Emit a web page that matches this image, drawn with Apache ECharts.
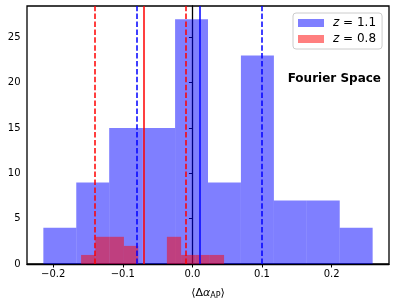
<!DOCTYPE html>
<html><head><meta charset="utf-8">
<script src="https://cdn.jsdelivr.net/npm/echarts@6/dist/echarts.min.js"></script>
<style>html,body{margin:0;padding:0;background:#fff}#c{width:396px;height:305px}</style>
</head><body><div id="c"></div>
<script>
// ---- data ----
const blueEdges = [-0.2142, -0.1669, -0.1196, -0.0722, -0.0249, 0.0224, 0.0697, 0.1171, 0.1644, 0.2117, 0.2590];
const blueCounts = [4, 9, 15, 15, 27, 9, 23, 7, 7, 4];
const redEdges = [-0.1600, -0.1395, -0.1189, -0.0984, -0.0778, -0.0573, -0.0367, -0.0162, 0.0044, 0.0249, 0.0455];
const redCounts = [1, 3, 3, 2, 0, 0, 3, 1, 1, 1];
const blueDashed = [-0.0815, 0.0971];
const blueSolid = [0.0128];
const redDashed = [-0.1375, -0.0082];
const redSolid = [-0.0734];
const xTicks = [-0.2, -0.1, 0.0, 0.1, 0.2];
const yTicks = [0, 5, 10, 15, 20, 25];
const blueName = 'z = 1.1';
const redName = 'z = 0.8';
const panelLabel = 'Fourier Space';

const FONT = 'DejaVu Sans';
function binData(edges, counts) {
  return counts.map((c, i) => [edges[i], edges[i + 1], c]);
}
function histRender(params, api) {
  const p0 = api.coord([api.value(0), api.value(2)]);
  const p1 = api.coord([api.value(1), 0]);
  return {
    type: 'rect',
    shape: { x: p0[0], y: p0[1], width: p1[0] - p0[0], height: p1[1] - p0[1] },
    style: { fill: api.visual('color'), stroke: null, lineWidth: 0 }
  };
}
const dashType = [5.5, 2.4];
function vlines(vals, color, type, width) {
  return vals.map(v => ({ xAxis: v, lineStyle: { color: color, type: type, width: width, opacity: 1 } }));
}

const chart = echarts.init(document.getElementById('c'), null, { renderer: 'canvas' });
chart.setOption({
  animation: false,
  grid: { left: 27, right: 7, top: 6, bottom: 41, show: true, borderColor: '#000', borderWidth: 1.3, backgroundColor: 'transparent' },
  xAxis: {
    type: 'value', min: -0.2377, max: 0.2825,
    splitLine: { show: false },
    axisLine: { show: true, onZero: false, lineStyle: { color: '#000', width: 1.3 } },
    axisTick: { show: true, inside: false, length: 3.5, lineStyle: { color: '#000', width: 1 }, customValues: xTicks },
    axisLabel: { show: true, margin: 5, color: '#000', fontSize: 10, fontFamily: FONT, customValues: xTicks,
      formatter: v => (v < 0 ? '\u2212' : '') + Math.abs(v).toFixed(1) },
    name: '\u27e8\u0394{a|\u03b1}{s|AP}\u27e9',
    nameLocation: 'middle', nameGap: 23,
    nameTextStyle: { color: '#000', fontSize: 11, fontFamily: FONT,
      rich: { a: { fontSize: 11, fontStyle: 'italic', fontFamily: FONT, color: '#000' },
              s: { fontSize: 8, fontFamily: FONT, color: '#000', verticalAlign: 'bottom', padding: [5, 0, 0, 0] } } }
  },
  yAxis: {
    type: 'value', min: 0, max: 28.45,
    splitLine: { show: false },
    axisLine: { show: true, lineStyle: { color: '#000', width: 1.3 } },
    axisTick: { show: true, inside: false, length: 3.5, lineStyle: { color: '#000', width: 1 }, customValues: yTicks },
    axisLabel: { show: true, margin: 6.5, color: '#000', fontSize: 10, fontFamily: FONT, customValues: yTicks }
  },
  legend: {
    data: [blueName, redName],
    orient: 'vertical', left: 293, top: 13,
    backgroundColor: 'rgba(255,255,255,0.8)',
    borderColor: '#cccccc', borderWidth: 1, borderRadius: 3,
    padding: [4, 6, 4, 5],
    itemWidth: 26, itemHeight: 8, itemGap: 4,
    icon: 'rect',
    textStyle: { fontSize: 12, fontFamily: FONT, color: '#000',
      rich: { i: { fontStyle: 'italic', fontSize: 12, fontFamily: FONT, color: '#000', padding: [0, 0, 0, 4] },
              n: { fontSize: 12, fontFamily: FONT, color: '#000' } } },
    formatter: name => '{i|' + name.charAt(0) + '}{n|' + name.slice(1) + '}'
  },
  graphic: [{
    type: 'text', right: 15, top: 73,
    style: { text: panelLabel, font: 'bold 12px "DejaVu Sans"', fill: '#000' }
  }],
  series: [
    { name: blueName, type: 'custom', renderItem: histRender, data: binData(blueEdges, blueCounts),
      itemStyle: { color: 'rgba(0,0,255,0.5)' }, encode: { x: [0, 1], y: 2 }, z: 2 },
    { name: redName, type: 'custom', renderItem: histRender, data: binData(redEdges, redCounts),
      itemStyle: { color: 'rgba(255,0,0,0.5)' }, encode: { x: [0, 1], y: 2 }, z: 3 },
    { name: 'lines', type: 'line', data: [], z: 5, silent: true,
      markLine: { symbol: ['none', 'none'], silent: true, label: { show: false }, animation: false,
        emphasis: { disabled: true },
        data: [].concat(
          vlines(blueDashed, '#0000ff', dashType, 1.5),
          vlines(blueSolid, '#0000ff', 'solid', 1.5),
          vlines(redDashed, '#ff0000', dashType, 1.5),
          vlines(redSolid, '#ff0000', 'solid', 1.5)) } }
  ]
});
</script></body></html>
